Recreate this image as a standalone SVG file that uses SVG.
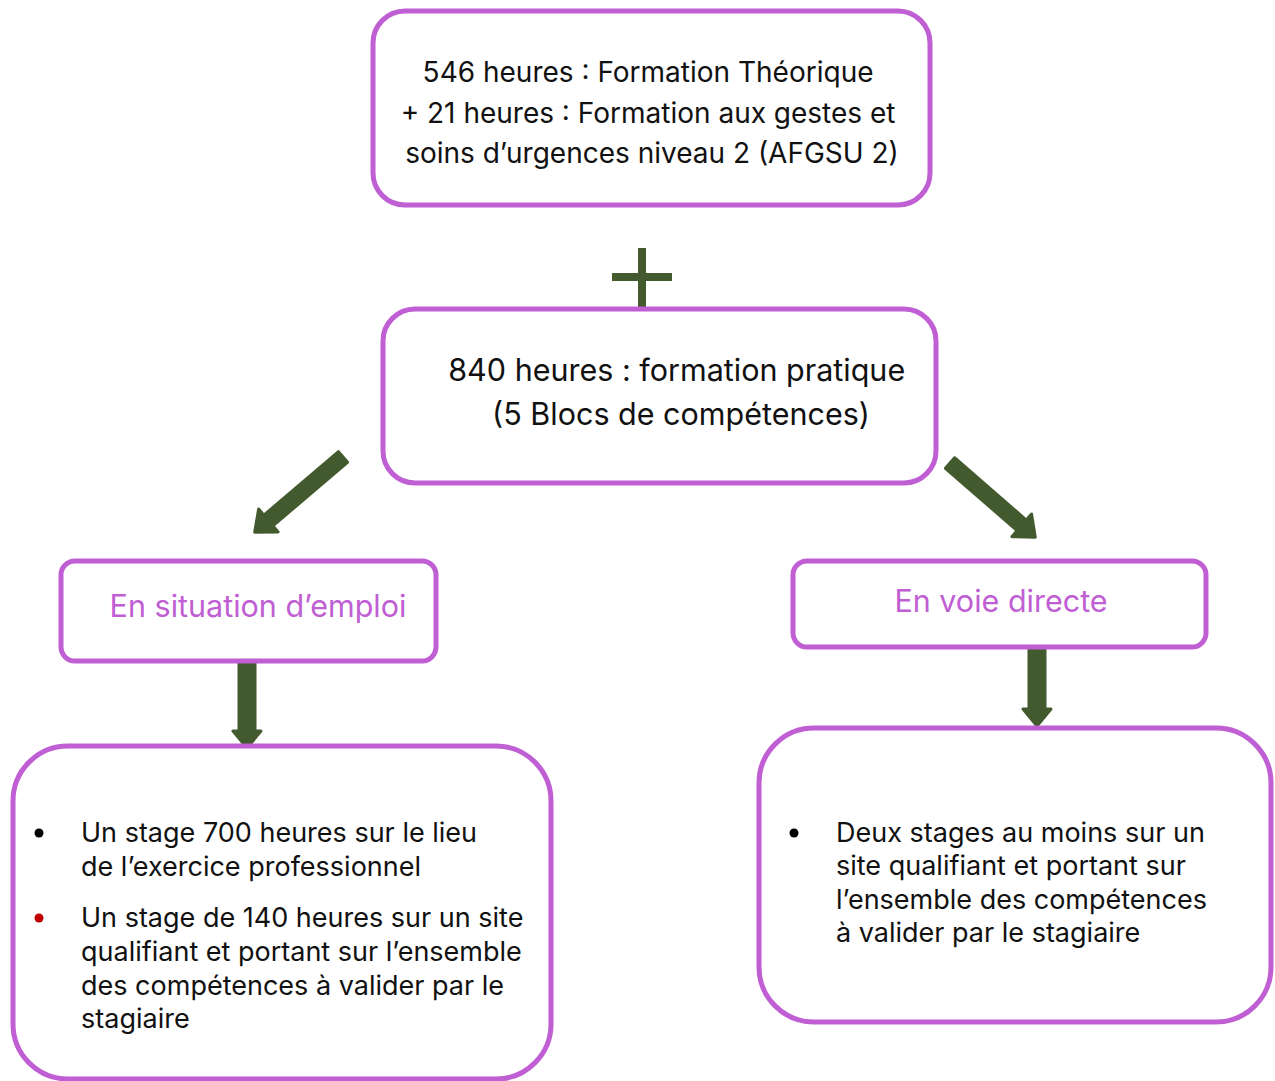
<svg xmlns="http://www.w3.org/2000/svg" width="1275" height="1081" viewBox="0 0 1275 1081">
<style>
.box{fill:#ffffff;stroke:#c05ed3;stroke-width:5}
.t{font-family:Inter,"Open Sans","Liberation Sans",sans-serif;fill:#111111}
.p{font-family:Inter,"Open Sans","Liberation Sans",sans-serif;fill:#c05ed3}
.arr{fill:#435a2e;stroke:#435a2e;stroke-width:3;stroke-linejoin:round}
</style>
<rect width="1275" height="1081" fill="#ffffff"/>
<g id="connectors">
<g id="plus" fill="#435a2e">
<rect x="638" y="248" width="8" height="60"/>
<rect x="612" y="273" width="60" height="8"/>
</g>
<path class="arr" transform="translate(343,457) rotate(139.6)" d="M0,-7 L98,-7 L98,-15 L116,0 L98,15 L98,7 L0,7 Z"/>
<path class="arr" transform="translate(950,463) rotate(41)" d="M0,-7 L95,-7 L95,-15 L113,0 L95,15 L95,7 L0,7 Z"/>
<path class="arr" transform="translate(247,661) rotate(90)" d="M0,-8 L70,-8 L70,-14 L87,0 L70,14 L70,8 L0,8 Z"/>
<path class="arr" transform="translate(1037,648) rotate(90)" d="M0,-8 L61,-8 L61,-14 L78,0 L61,14 L61,8 L0,8 Z"/>
</g>
<g id="node-theorique">
<rect class="box" x="373" y="11" width="557" height="194" rx="32"/>
<text class="t" font-size="28" text-anchor="middle">
<tspan x="652" y="82">546 heures : Formation Théorique</tspan>
<tspan x="652" y="123">+ 21 heures : Formation aux gestes et</tspan>
<tspan x="652" y="163">soins d’urgences niveau 2 (AFGSU 2)</tspan>
</text>
</g>
<g id="node-pratique">
<rect class="box" x="383" y="309" width="553" height="174" rx="32"/>
<text class="t" font-size="30.5" text-anchor="middle">
<tspan x="681" y="381">840 heures : formation pratique</tspan>
<tspan x="681" y="425">(5 Blocs de compétences)</tspan>
</text>
</g>
<g id="node-emploi">
<rect class="box" x="61" y="561" width="375" height="100" rx="14"/>
<text class="p" font-size="30.5" x="258" y="617" text-anchor="middle">En situation d’emploi</text>
</g>
<g id="node-directe">
<rect class="box" x="793" y="561" width="413" height="86" rx="14"/>
<text class="p" font-size="30.5" x="1001" y="612" text-anchor="middle">En voie directe</text>
</g>
<g id="node-stages-emploi">
<rect class="box" x="13" y="746" width="538" height="333" rx="55"/>
<circle cx="39" cy="833" r="4.5" fill="#000000"/>
<circle cx="39" cy="918" r="4.5" fill="#c00000"/>
<text class="t" font-size="27">
<tspan x="81" y="842">Un stage 700 heures sur le lieu</tspan>
<tspan x="81" y="876">de l’exercice professionnel</tspan>
<tspan x="81" y="927">Un stage de 140 heures sur un site</tspan>
<tspan x="81" y="961">qualifiant et portant sur l’ensemble</tspan>
<tspan x="81" y="995">des compétences à valider par le</tspan>
<tspan x="81" y="1028">stagiaire</tspan>
</text>
</g>
<g id="node-stages-directe">
<rect class="box" x="759" y="728" width="512" height="294" rx="55"/>
<circle cx="794" cy="833" r="4.5" fill="#000000"/>
<text class="t" font-size="27">
<tspan x="836" y="842">Deux stages au moins sur un</tspan>
<tspan x="836" y="875">site qualifiant et portant sur</tspan>
<tspan x="836" y="909">l’ensemble des compétences</tspan>
<tspan x="836" y="942">à valider par le stagiaire</tspan>
</text>
</g>
</svg>
